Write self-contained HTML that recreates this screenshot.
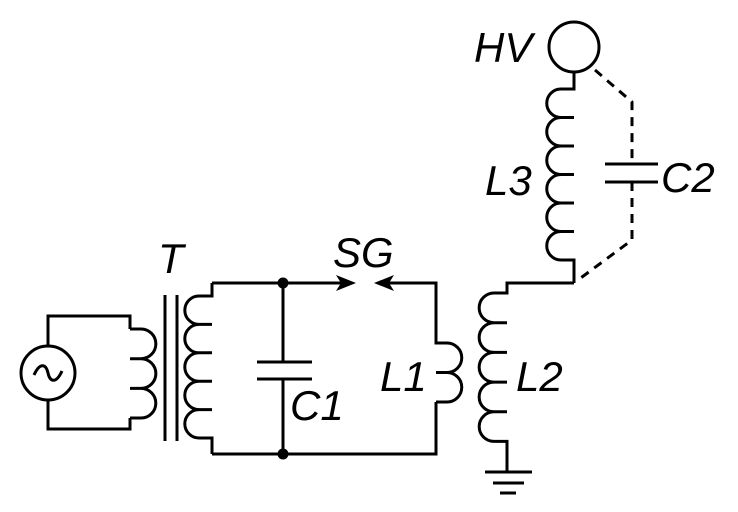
<!DOCTYPE html>
<html><head><style>html,body{margin:0;padding:0;background:#fff}svg{display:block}</style></head>
<body>
<svg width="738" height="512" viewBox="0 0 738 512" xmlns="http://www.w3.org/2000/svg">
<g fill="none" stroke="#000" stroke-width="3" stroke-linejoin="miter">
<!-- source -->
<circle cx="48" cy="373" r="27"/>
<path d="M34 375 C40 362,46 364,48 373 C50 382,56 384,62 371"/>
<path d="M48 346 V316 H130 V329 M48 400 V429 H130 V418"/>
<!-- primary coil bumps right -->
<path d="M130 329 H141 a14.8 14.8 0 0 1 0 29.7 a14.8 14.8 0 0 1 0 29.7 a14.8 14.8 0 0 1 0 29.6 H130"/>
<path d="M130 358.7 H141 M130 388.4 H141"/>
<!-- core -->
<path d="M165 295 V441 M177 295 V441"/>
<!-- secondary coil bumps left -->
<path d="M212 283 V296 H199 a14.2 14.2 0 0 0 0 28.4 a14.2 14.2 0 0 0 0 28.4 a14.2 14.2 0 0 0 0 28.4 a14.2 14.2 0 0 0 0 28.4 a14.2 14.2 0 0 0 0 28.4 H212 V454"/>
<path d="M212 324.4 H199 M212 352.8 H199 M212 381.2 H199 M212 409.6 H199"/>
<path d="M212 283 H345 M212 454 H436 V402"/>
<!-- C1 -->
<path d="M283 283 V362 M257 362 H312 M257 379 H312 M283 379 V454"/>
<!-- L1 -->
<path d="M385 283 H436 V343 H447 a14.75 14.75 0 0 1 0 29.5 a14.75 14.75 0 0 1 0 29.5 H436"/>
<path d="M436 372.5 H447"/>
<!-- L2 -->
<path d="M574 283 H507 V293 H494 a14.8 14.8 0 0 0 0 29.7 a14.8 14.8 0 0 0 0 29.7 a14.8 14.8 0 0 0 0 29.7 a14.8 14.8 0 0 0 0 29.7 a14.8 14.8 0 0 0 0 29.6 H507 V472"/>
<path d="M507 322.7 H494 M507 352.4 H494 M507 382.1 H494 M507 411.8 H494"/>
<path d="M485 472 H532 M493 483 H524 M500 493 H516"/>
<!-- L3 -->
<circle cx="574" cy="47" r="25"/>
<path d="M574 72 V89 H561 a14.25 14.25 0 0 0 0 28.5 a14.25 14.25 0 0 0 0 28.5 a14.25 14.25 0 0 0 0 28.5 a14.25 14.25 0 0 0 0 28.5 a14.25 14.25 0 0 0 0 28.5 a14.25 14.25 0 0 0 0 28.5 H574 V283"/>
<path d="M574 117.5 H561 M574 146 H561 M574 174.5 H561 M574 203 H561 M574 231.5 H561"/>
<!-- C2 -->
<path d="M595 70 L632 102 V164 M632 182 V240 L578 280" stroke-dasharray="9 7"/>
<path d="M605 164 H658 M605 182 H658"/>
</g>
<circle cx="283" cy="283" r="5.5"/>
<circle cx="283" cy="454" r="5.5"/>
<path d="M356 283 L336 275 L341 283 L336 291 Z"/>
<path d="M374 283 L394 275 L389 283 L394 291 Z"/>
<g font-family="Liberation Sans, sans-serif" font-style="italic" font-size="42" fill="#000">
<text x="158" y="273">T</text>
<text x="333" y="267">SG</text>
<text x="290" y="420">C1</text>
<text x="380" y="391">L1</text>
<text x="516" y="391">L2</text>
<text x="485" y="195">L3</text>
<text x="661" y="192">C2</text>
<text x="474" y="62">HV</text>
</g>
</svg>
</body></html>
